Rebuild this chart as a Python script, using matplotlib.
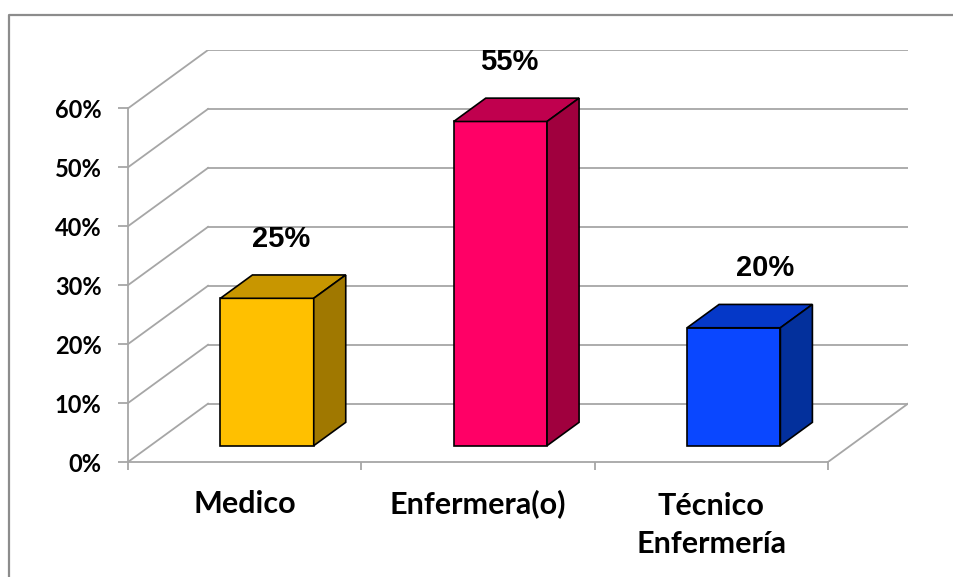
import matplotlib
matplotlib.use("Agg")
import matplotlib.pyplot as plt
from matplotlib.patches import Polygon
from matplotlib.lines import Line2D

categories = ["Medico", "Enfermera(o)", "Técnico\nEnfermería"]
values = [25, 55, 20]
labels = ["25%", "55%", "20%"]
front_colors = ["#FFC000", "#FF0066", "#0A47FF"]
top_colors = ["#C89600", "#C0004E", "#0538C8"]
side_colors = ["#A07800", "#A0003E", "#03309C"]
yticks = [0, 10, 20, 30, 40, 50, 60]
label_dx = [-1.5, -5, 11]   # data labels were nudged a bit in the original

# fake 3d: depth offset of the back wall, in data units
DX = 0.343
DY = 9.9
d0, d1 = 0.28, 0.68     # bar depth range (0 = front, 1 = back)
bw = 0.40
grid = "#A6A6A6"

fig = plt.figure(figsize=(9.54, 5.77), dpi=100)
W, H = 954, 577
ax = fig.add_axes([128 / W, 115 / H, 780 / W, 412 / H])
ax.set_xlim(0, 3 + DX)
ax.set_ylim(0, 60 + DY)

# walls / floor
for v in yticks:
    ax.plot([DX, 3 + DX], [v + DY, v + DY], color=grid, lw=1.3, zorder=1)
    ax.plot([0, DX], [v, v + DY], color=grid, lw=1.3, zorder=1)
ax.plot([3, 3 + DX], [0, DY], color=grid, lw=1.3, zorder=1)

# bars
for i, v in enumerate(values):
    xc = i + 0.5 + d0 * DX
    ax.bar(xc, v, bottom=d0 * DY, width=bw, color=front_colors[i],
           edgecolor="black", linewidth=1.2, zorder=3)
    x0, x1 = xc - bw / 2, xc + bw / 2
    yb, yt = d0 * DY, v + d0 * DY
    ddx, ddy = (d1 - d0) * DX, (d1 - d0) * DY
    top = Polygon([(x0, yt), (x1, yt), (x1 + ddx, yt + ddy), (x0 + ddx, yt + ddy)],
                  closed=True, facecolor=top_colors[i], edgecolor="black", lw=1.2, zorder=3)
    side = Polygon([(x1, yb), (x1 + ddx, yb + ddy), (x1 + ddx, yt + ddy), (x1, yt)],
                   closed=True, facecolor=side_colors[i], edgecolor="black", lw=1.2, zorder=3)
    ax.add_patch(top)
    ax.add_patch(side)
    dm = (d0 + d1) / 2
    ax.annotate(labels[i], (i + 0.5 + dm * DX, v + dm * DY), xytext=(label_dx[i], 34.5),
                textcoords="offset points", ha="center", va="center",
                fontsize=21, fontweight="bold", family="Liberation Sans", zorder=5)

# category names under the front edge (va=baseline -> last line)
for i, c in enumerate(categories):
    n = c.count("\n")
    ax.annotate(c, (i + 0.5, 0), xytext=(0, -37 - n * 28.8), textcoords="offset points",
                ha="center", va="baseline", multialignment="center",
                fontsize=22, fontweight="bold", family="Lato", linespacing=1.45,
                annotation_clip=False)

# axes
for s in ["top", "right"]:
    ax.spines[s].set_visible(False)
ax.spines["left"].set_bounds(0, 60)
ax.spines["bottom"].set_bounds(0, 3)
for s in ["left", "bottom"]:
    ax.spines[s].set_color(grid)
    ax.spines[s].set_linewidth(1.3)

ax.set_yticks(yticks)
ax.set_yticklabels([f"{v}%" for v in yticks])
ax.tick_params(axis="y", length=7, width=1.3, color=grid, pad=12)
for t in ax.get_yticklabels():
    t.set_fontfamily("Lato")
    t.set_fontweight("bold")
    t.set_fontsize(17)

ax.set_xticks([0, 1, 2, 3])
ax.set_xticklabels([])
ax.tick_params(axis="x", which="major", length=6, width=1.3, color=grid)

# chart border (top and left visible)
fig.add_artist(Line2D([9.5 / W, 9.5 / W, 1], [0, 1 - 14.5 / H, 1 - 14.5 / H],
                      color="#8C8C8C", lw=1.6, transform=fig.transFigure))

fig.savefig("out.png", dpi=100)
